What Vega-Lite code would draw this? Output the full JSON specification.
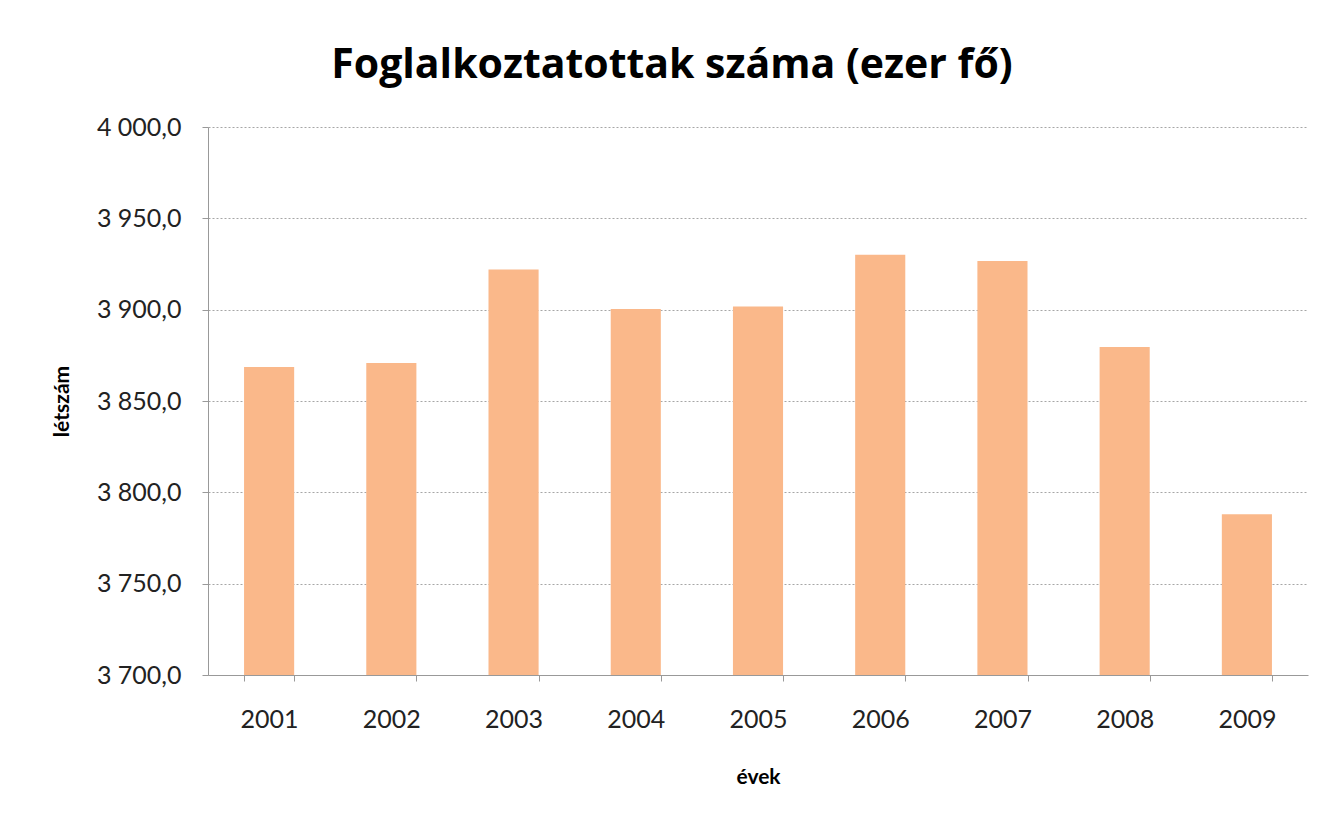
{
  "$schema": "https://vega.github.io/schema/vega-lite/v6.json",
  "autosize": {"type": "none"},
  "width": 1100,
  "height": 548,
  "padding": {"left": 208, "top": 127, "right": 32, "bottom": 146},
  "background": "white",
  "config": {
    "locale": {"number": {"decimal": ",", "thousands": " ", "grouping": [3], "currency": ["", " Ft"]}},
    "font": "Lato",
    "view": {"stroke": null}
  },
  "title": {
    "text": "Foglalkoztatottak száma (ezer fő)",
    "fontSize": 41,
    "fontWeight": "bold",
    "font": "Open Sans",
    "color": "#000000",
    "anchor": "middle",
    "dx": -86,
    "offset": 28
  },
  "data": {
    "values": [
      {"ev": "2001", "letszam": 3868.6},
      {"ev": "2002", "letszam": 3870.8},
      {"ev": "2003", "letszam": 3922.0},
      {"ev": "2004", "letszam": 3900.4},
      {"ev": "2005", "letszam": 3901.8},
      {"ev": "2006", "letszam": 3930.0},
      {"ev": "2007", "letszam": 3926.7},
      {"ev": "2008", "letszam": 3879.6},
      {"ev": "2009", "letszam": 3788.0}
    ]
  },
  "mark": {"type": "bar", "color": "#FAB88A", "clip": true},
  "encoding": {
    "x": {
      "field": "ev",
      "type": "ordinal",
      "title": "évek",
      "scale": {"paddingInner": 0.59, "paddingOuter": 0.295},
      "axis": {
        "labelAngle": 0,
        "labelFontSize": 25,
        "labelColor": "#222222",
        "labelPadding": 26,
        "tickBand": "extent",
        "tickSize": 6,
        "tickColor": "#999999",
        "domainColor": "#999999",
        "titleFontSize": 21,
        "titleFontWeight": "bold",
        "titleColor": "#000000",
        "titlePadding": 34
      }
    },
    "y": {
      "field": "letszam",
      "type": "quantitative",
      "title": "létszám",
      "scale": {"domain": [3700, 4000], "zero": false, "nice": false},
      "axis": {
        "values": [3700, 3750, 3800, 3850, 3900, 3950, 4000],
        "format": ",.1f",
        "labelFontSize": 25,
        "labelColor": "#222222",
        "labelPadding": 21,
        "tickSize": 6,
        "tickColor": "#999999",
        "domainColor": "#999999",
        "gridColor": "#A6A6A6",
        "gridDash": [2, 2],
        "titleFontSize": 21,
        "titleFontWeight": "bold",
        "titleColor": "#000000",
        "titlePadding": 24
      }
    }
  }
}
